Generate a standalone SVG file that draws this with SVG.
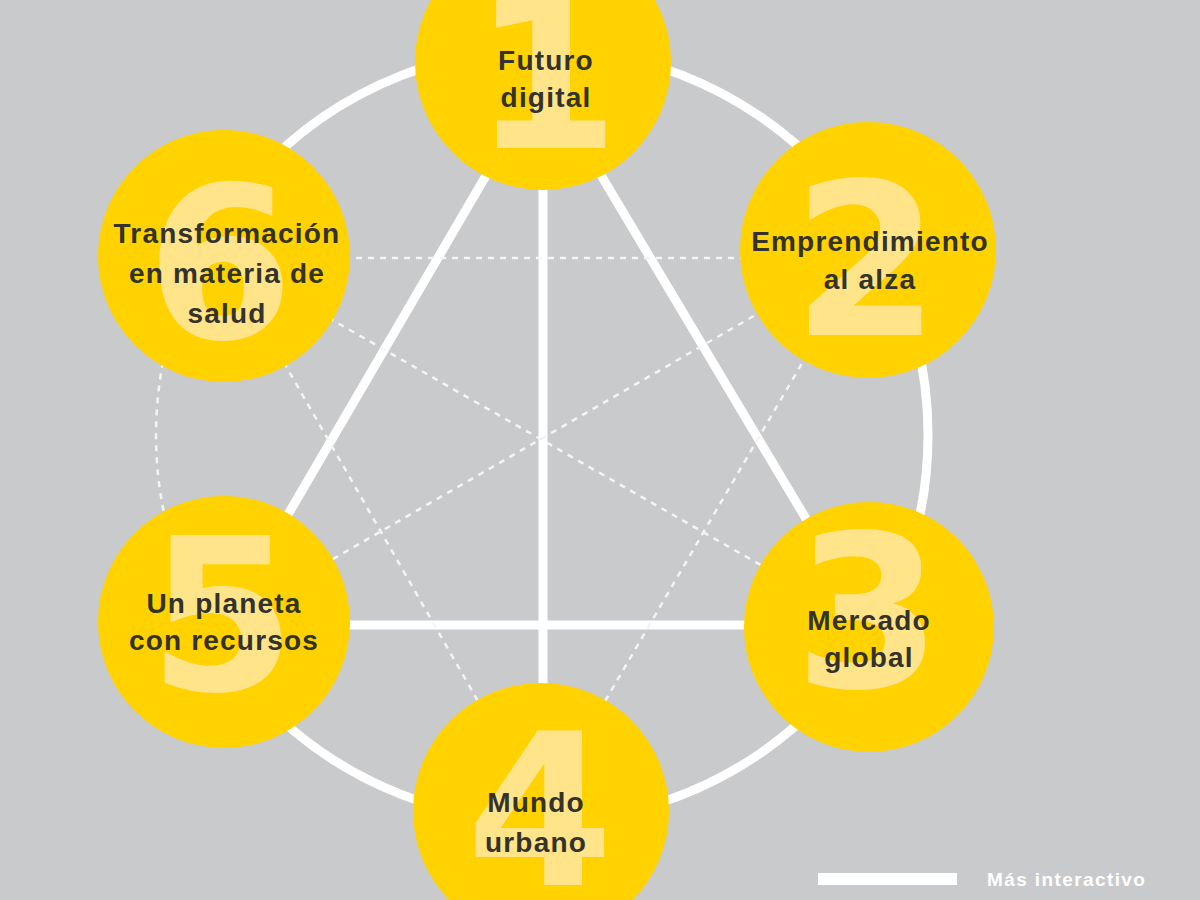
<svg xmlns="http://www.w3.org/2000/svg" width="1200" height="900" viewBox="0 0 1200 900">
<style>
.solid{fill:none;stroke:#ffffff;stroke-width:9;stroke-linecap:butt}
.dash{fill:none;stroke:#f4f4f4;stroke-width:2.5;stroke-dasharray:6 6}
.node{fill:#FFD200}
.num{font-family:"DejaVu Sans",sans-serif;font-weight:bold;font-size:212px;fill:#FFE48A;text-anchor:middle}
.lbl{font-family:"Liberation Sans",Arial,sans-serif;font-weight:bold;font-size:28px;letter-spacing:1.2px;fill:#33322b;text-anchor:middle}
.leg{font-family:"Liberation Sans",Arial,sans-serif;font-weight:bold;font-size:19px;letter-spacing:1.4px;fill:#ffffff}
</style>
<rect x="0" y="0" width="1200" height="900" fill="#C9CACC"/>
<g id="connectors">
  <path class="solid" d="M165.5 350 A386 386 0 1 1 165.5 520"/>
  <path class="dash" d="M165.5 350 A386 386 0 0 0 165.5 520"/>
  <line class="solid" x1="543" y1="78" x2="224" y2="624"/>
  <line class="solid" x1="543" y1="78" x2="870" y2="626"/>
  <line class="solid" x1="224" y1="625" x2="870" y2="625"/>
  <line class="solid" x1="543" y1="62" x2="543" y2="811"/>
  <line class="dash" x1="224" y1="258" x2="868" y2="258"/>
  <line class="dash" x1="224" y1="258" x2="869" y2="627"/>
  <line class="dash" x1="868" y1="250" x2="224" y2="622"/>
  <line class="dash" x1="224" y1="258" x2="541" y2="811"/>
  <line class="dash" x1="868" y1="250" x2="541" y2="811"/>
</g>
<g id="node1">
  <circle class="node" cx="543" cy="62" r="128"/>
  <text class="num" x="546" y="148">1</text>
  <text class="lbl" x="546" y="70">Futuro</text>
  <text class="lbl" x="546" y="107">digital</text>
</g>
<g id="node2">
  <circle class="node" cx="868" cy="250" r="128"/>
  <text class="num" x="866" y="335">2</text>
  <text class="lbl" x="870" y="251">Emprendimiento</text>
  <text class="lbl" x="870" y="289">al alza</text>
</g>
<g id="node3">
  <circle class="node" cx="869" cy="627" r="125"/>
  <text class="num" x="868" y="687">3</text>
  <text class="lbl" x="869" y="630">Mercado</text>
  <text class="lbl" x="869" y="667">global</text>
</g>
<g id="node4">
  <circle class="node" cx="541" cy="811" r="128"/>
  <text class="num" x="540" y="885">4</text>
  <text class="lbl" x="536" y="812">Mundo</text>
  <text class="lbl" x="536" y="852">urbano</text>
</g>
<g id="node5">
  <circle class="node" cx="224" cy="622" r="126"/>
  <text class="num" x="222" y="690">5</text>
  <text class="lbl" x="224" y="613">Un planeta</text>
  <text class="lbl" x="224" y="650">con recursos</text>
</g>
<g id="node6">
  <circle class="node" cx="224" cy="256" r="126"/>
  <text class="num" x="220" y="338">6</text>
  <text class="lbl" x="227" y="243">Transformación</text>
  <text class="lbl" x="227" y="283">en materia de</text>
  <text class="lbl" x="227" y="323">salud</text>
</g>
<g id="legend">
  <rect x="818" y="873" width="139" height="12" fill="#ffffff"/>
  <text class="leg" x="987" y="886">Más interactivo</text>
</g>
</svg>
